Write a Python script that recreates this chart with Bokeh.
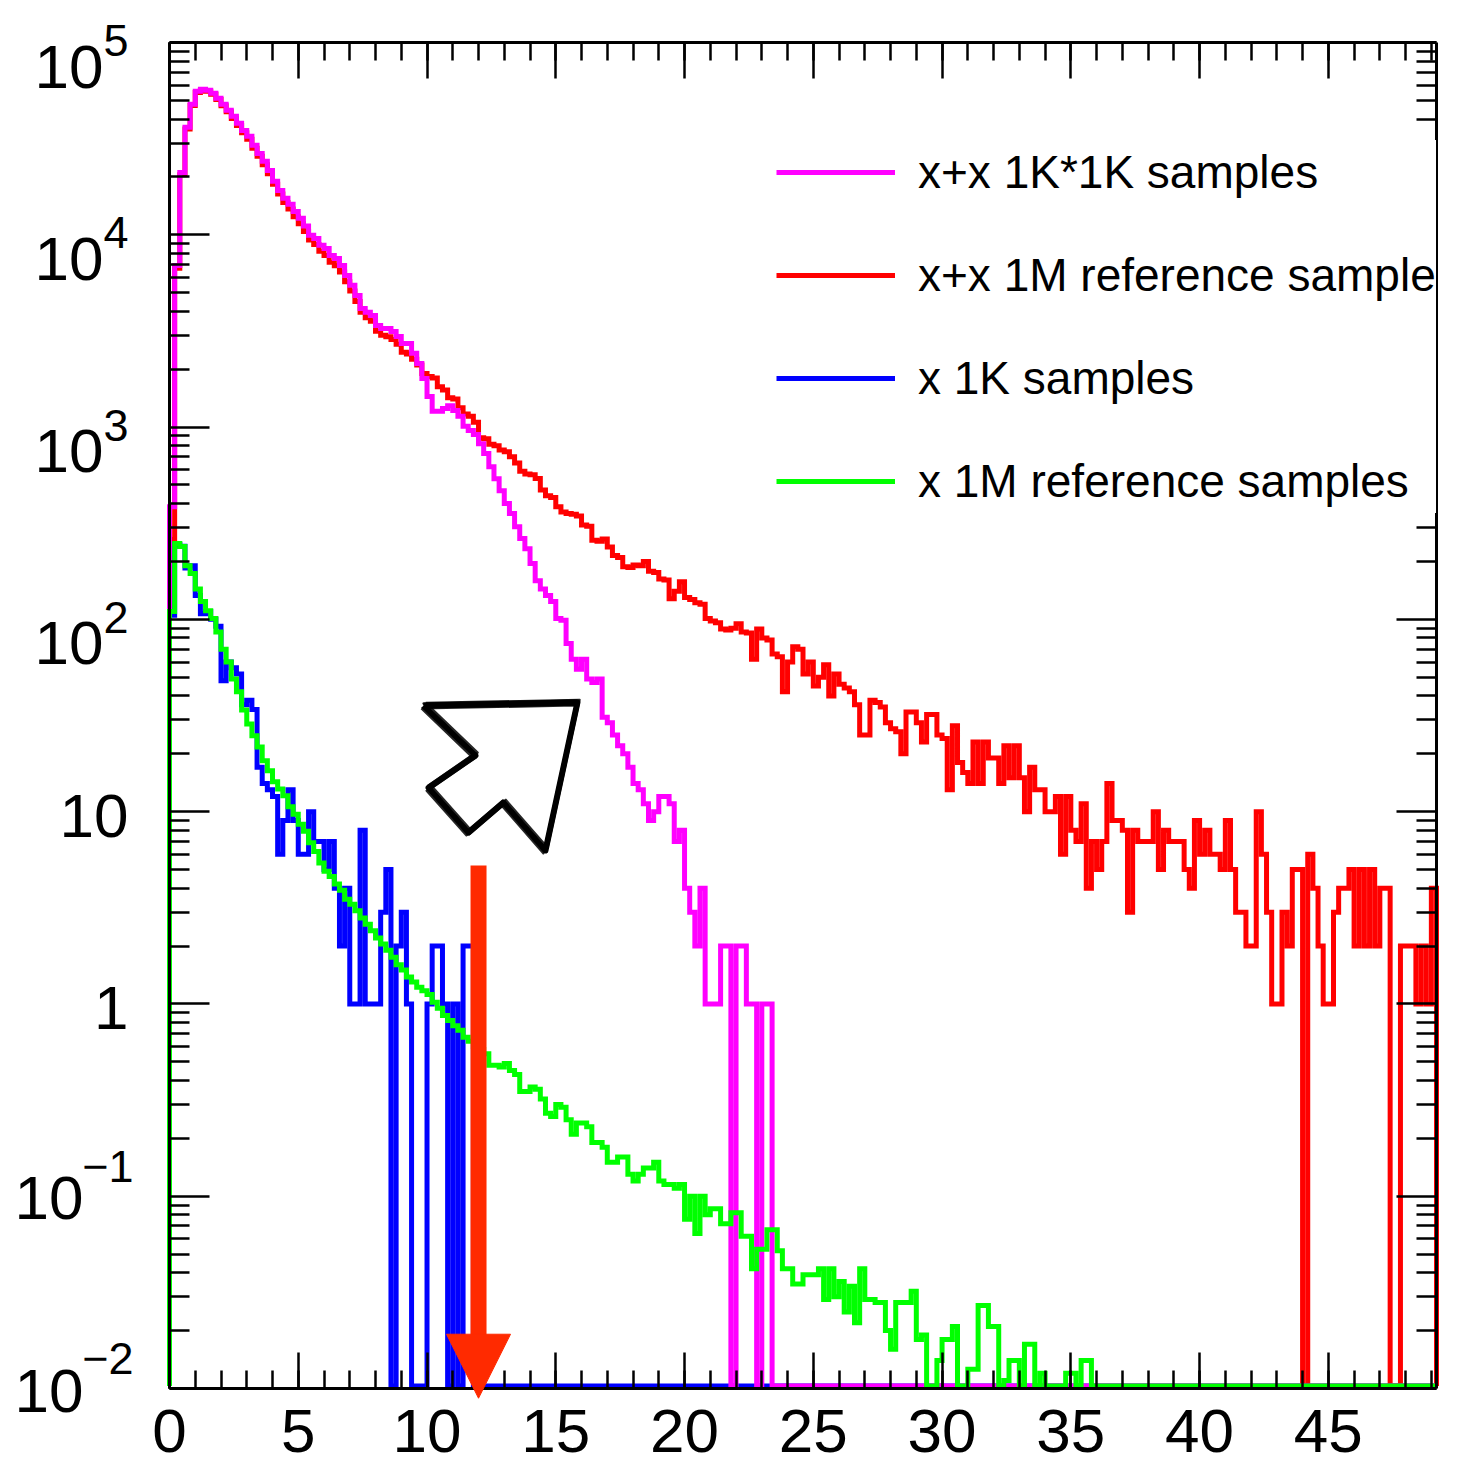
import math
import numpy as np
from bokeh.plotting import figure
from bokeh.models import (Range1d, FixedTicker, LinearAxis, LogAxis, Label, Legend,
                          LegendItem, Arrow, NormalHead, CustomJSTickFormatter)
from bokeh.embed import file_html
from bokeh.resources import INLINE

# ---------------- data (bin contents, 0.2 wide bins starting at 0) ----------------
N_BINS = 246
BIN_WIDTH = 0.2
X_MIN, X_MAX = 0.0, 49.2
Y_MIN, Y_MAX = 1e-2, 1e5

RED_XX_1M_REF = [
    260, 6700, 20500, 35500, 47000, 55000, 56500, 55800, 53800, 50500,
    46900, 43600, 40300, 37000, 33900, 31400, 28200, 25600, 23100, 20800,
    18300, 16300, 14700, 13600, 12400, 11400, 10400, 9400, 8900, 8200,
    7800, 7200, 6900, 6400, 5700, 5100, 4500, 3950, 3700, 3550,
    3150, 3000, 2950, 2850, 2700, 2450, 2400, 2250, 2100, 1900,
    1830, 1800, 1620, 1560, 1420, 1400, 1260, 1170, 1140, 1060,
    880, 870, 815, 800, 760, 745, 700, 650, 590, 570,
    565, 540, 470, 440, 430, 385, 362, 355, 352, 345,
    310, 305, 258, 255, 262, 238, 215, 210, 188, 186,
    192, 190, 200, 178, 175, 162, 160, 128, 140, 157,
    130, 127, 122, 120, 101, 98, 96, 89, 88, 90,
    95, 86, 85, 62, 89, 80, 78, 66, 64, 42,
    60, 72, 70, 52, 60, 45, 50, 58, 40, 52,
    46, 44, 42, 36, 25, 25, 38, 37, 35, 29,
    27, 26, 20, 33, 33, 29, 23, 32, 32, 25,
    24, 13, 28, 18, 16, 14, 23, 14, 23, 19,
    19, 14, 22, 15, 22, 15, 10, 17, 13, 13,
    10, 10, 12, 6, 12, 8, 7, 11, 4, 7,
    5, 7, 14, 9, 9, 8, 3, 8, 7, 7,
    7, 10, 5, 8, 7, 7, 7, 5, 4, 9,
    6, 8, 6, 6, 5, 9, 5, 3, 3, 2,
    2, 10, 6, 3, 1, 1, 3, 2, 5, 5,
    0, 6, 4, 2, 1, 1, 3, 4, 4, 5,
    2, 5, 2, 5, 2, 4, 4, 0, 0, 2,
    2, 2, 1, 2, 1, 4,
]

MAGENTA_XX_1Kx1K = [
    385, 6930, 21100, 36200, 47700, 55700, 57100, 56400, 54500, 51300,
    47700, 44400, 41300, 38000, 34900, 32500, 29200, 26500, 24100, 21600,
    19000, 17000, 15500, 14400, 13200, 12200, 11100, 9930, 9570, 8810,
    8490, 7810, 7530, 6930, 6150, 5460, 4840, 4140, 3950, 3800,
    3370, 3260, 3260, 3140, 2960, 2720, 2720, 2420, 2140, 1790,
    1440, 1210, 1210, 1250, 1290, 1220, 1140, 1010, 960, 914,
    820, 728, 622, 539, 467, 400, 355, 303, 263, 233,
    195, 159, 144, 133, 124, 101, 99, 75, 62, 55,
    62, 49, 47, 49, 31, 29, 25, 22, 20, 17,
    14, 13, 11, 9, 10, 12, 12, 11, 7, 8,
    4, 3, 2, 4, 1, 1, 1, 2, 2, 0,
    2, 2, 1, 1, 0, 1, 1,
]

BLUE_X_1K = [
    105, 245, 240, 185, 190, 133, 107, 110, 100, 92,
    48, 60, 56, 52, 36, 38, 34, 17, 14, 13,
    12, 6, 9, 13, 9, 6, 6, 10, 7, 7,
    5, 7, 4, 2, 4, 1, 1, 8, 1, 1,
    1, 3, 5, 0, 2, 3, 1, 0, 0, 0,
    1, 2, 2, 1, 0, 1, 0, 2, 2,
]

GREEN_X_1M_REF = [
    110, 248, 239, 190, 173, 144, 124, 111, 101, 86,
    70, 60, 49, 42, 33.8, 28.6, 24.8, 21.7, 18.4, 16.3,
    14.3, 13.1, 12.1, 10.6, 9.7, 8.6, 7.9, 6.9, 6.2, 5.4,
    4.9, 4.6, 4.2, 3.9, 3.5, 3.3, 3.05, 2.8, 2.6, 2.4,
    2.2, 2.05, 1.9, 1.75, 1.6, 1.5, 1.38, 1.3, 1.22, 1.17,
    1.12, 1.02, 0.95, 0.87, 0.82, 0.77, 0.73, 0.67, 0.64, 0.60,
    0.58, 0.55, 0.48, 0.48, 0.47, 0.49, 0.45, 0.43, 0.35, 0.35,
    0.37, 0.36, 0.32, 0.27, 0.26, 0.30, 0.29, 0.25, 0.21, 0.24,
    0.24, 0.23, 0.19, 0.19, 0.18, 0.15, 0.15, 0.16, 0.16, 0.13,
    0.12, 0.13, 0.14, 0.14, 0.15, 0.12, 0.115, 0.115, 0.11, 0.115,
    0.076, 0.10, 0.064, 0.10, 0.08, 0.086, 0.086, 0.072, 0.072, 0.082,
    0.082, 0.062, 0.062, 0.042, 0.053, 0.053, 0.067, 0.067, 0.052, 0.042,
    0.042, 0.035, 0.035, 0.039, 0.039, 0.039, 0.042, 0.029, 0.042, 0.030,
    0.036, 0.025, 0.034, 0.022, 0.042, 0.029, 0.029, 0.028, 0.028, 0.020,
    0.016, 0.028, 0.028, 0.028, 0.032, 0.018, 0.019, 0, 0, 0.014,
    0.018, 0.018, 0.021, 0, 0, 0.0126, 0.0126, 0.027, 0.027, 0.021,
    0.021, 0, 0.011, 0.014, 0.014, 0, 0.017, 0.017, 0, 0.012,
    0, 0, 0, 0, 0.012, 0.012, 0, 0.014, 0.014,
]

LEGEND_LABELS = ["x+x 1K*1K samples", "x+x 1M reference sample",
                 "x 1K samples", "x 1M reference samples"]

X_TICKS = [0, 5, 10, 15, 20, 25, 30, 35, 40, 45]
X_TICK_LABELS = ["0", "5", "10", "15", "20", "25", "30", "35", "40", "45"]
Y_DECADES = [1e5, 1e4, 1e3, 1e2, 1e1, 1e0, 1e-1, 1e-2]
Y_BASES = ["10", "10", "10", "10", "10", "1", "10", "10"]
Y_EXPONENTS = ["5", "4", "3", "2", "", "", "\u22121", "\u22122"]

# annotations: red down arrow and hand-drawn cursor outline (data coordinates)
RED_ARROW_X = 12.0
RED_ARROW_Y = (5.25, 0.0189, 0.0089)   # shaft top, head base, head tip
CURSOR_X = [9.86, 15.84, 14.60, 12.97, 11.61, 10.06, 11.88, 9.86]
CURSOR_Y = [35.6, 36.9, 6.28, 11.15, 7.79, 13.3, 19.6, 35.6]

# ---------------- layout: the framed histogram area inside the canvas ----------------
W, H = 1467, 1469
FRAME_PX = dict(left=169, right=1436, top=42, bottom=1388)
MARGIN = 2
FONT = "Liberation Sans"
C_MAG, C_RED, C_BLUE, C_GREEN = "#ff00ff", "#ff0000", "#0000ff", "#00ff00"
C_ARROW = "#ff2a00"
FLOOR = 0.0103   # empty bins are drawn on the bottom of the frame

px_per_x = (FRAME_PX["right"] - FRAME_PX["left"]) / (X_MAX - X_MIN)
px_per_dec = (FRAME_PX["bottom"] - FRAME_PX["top"]) / (math.log10(Y_MAX) - math.log10(Y_MIN))
view_x = (X_MIN - (FRAME_PX["left"] - MARGIN) / px_per_x,
          X_MAX + (W - MARGIN - FRAME_PX["right"]) / px_per_x)
view_y = (10 ** (math.log10(Y_MIN) - (H - MARGIN - FRAME_PX["bottom"]) / px_per_dec),
          10 ** (math.log10(Y_MAX) + (FRAME_PX["top"] - MARGIN) / px_per_dec))


def complete(vals):
    vals = list(vals)[:N_BINS]
    return vals + [0] * (N_BINS - len(vals))


edges = np.arange(N_BINS + 1) * BIN_WIDTH


def step_path(vals):
    v = np.maximum(np.asarray(complete(vals), dtype=float), FLOOR)
    xs = np.repeat(edges, 2)
    ys = np.concatenate([[FLOOR], np.repeat(v, 2), [FLOOR]])
    return xs, ys


p = figure(width=W, height=H, x_range=Range1d(*view_x), y_range=Range1d(*view_y),
           y_axis_type="log", output_backend="svg", toolbar_location=None,
           min_border_left=MARGIN, min_border_right=MARGIN, min_border_top=MARGIN,
           min_border_bottom=MARGIN)
p.outline_line_color = None
p.grid.visible = False
p.background_fill_color = "white"
p.border_fill_color = "white"

x_ticker = FixedTicker(ticks=X_TICKS, minor_ticks=list(range(0, 50)))
y_ticker = FixedTicker(ticks=Y_DECADES,
                       minor_ticks=[m * 10.0 ** e for e in range(-2, 5) for m in range(2, 10)])
blank = CustomJSTickFormatter(code="return ''")


def style_axis(ax, major_len, minor_len):
    ax.axis_line_width = 3
    ax.axis_line_color = "black"
    ax.major_tick_in = major_len
    ax.major_tick_out = 0
    ax.minor_tick_in = minor_len
    ax.minor_tick_out = 0
    ax.major_tick_line_width = 2.5
    ax.minor_tick_line_width = 2.5
    ax.major_tick_line_color = "black"
    ax.minor_tick_line_color = "black"
    ax.formatter = blank
    ax.major_label_text_font_size = "1px"
    ax.major_label_standoff = 0


xb = p.xaxis[0]
xb.ticker = x_ticker
xb.fixed_location = Y_MIN
xb.bounds = (X_MIN, X_MAX)
style_axis(xb, 36, 18)
yl = p.yaxis[0]
yl.ticker = y_ticker
yl.fixed_location = X_MIN
yl.bounds = (Y_MIN, Y_MAX)
style_axis(yl, 40, 20)

xt = LinearAxis(ticker=x_ticker, fixed_location=Y_MAX, bounds=(X_MIN, X_MAX))
style_axis(xt, 36, 18)
p.add_layout(xt, "above")
yr = LogAxis(ticker=y_ticker, fixed_location=X_MAX, bounds=(Y_MIN, Y_MAX))
style_axis(yr, 40, 20)
p.add_layout(yr, "right")

# histograms (drawing order as in the reference)
rx, ry = step_path(RED_XX_1M_REF)
r_red = p.line(rx, ry, line_color=C_RED, line_width=5, line_join="miter")
bx, by = step_path(BLUE_X_1K)
r_blue = p.line(bx, by, line_color=C_BLUE, line_width=5, line_join="miter")
mx, my = step_path(MAGENTA_XX_1Kx1K)
r_mag = p.line(mx, my, line_color=C_MAG, line_width=5, line_join="miter")
gx, gy = step_path(GREEN_X_1M_REF)
r_green = p.line(gx, gy, line_color=C_GREEN, line_width=5, line_join="miter")

# hand-drawn cursor outline (a few rough strokes)
p.line(CURSOR_X, CURSOR_Y, line_color="black", line_width=6, line_join="round")
for dx, fy, lw in [(0.09, 1.035, 2), (-0.08, 0.965, 2), (0.04, 0.975, 1.5), (-0.03, 1.03, 1.5)]:
    p.line([x + dx for x in CURSOR_X], [y * fy for y in CURSOR_Y],
           line_color="black", line_width=lw, line_alpha=0.85, line_join="round")

# red arrow: shaft + head
p.add_layout(Arrow(end=None, x_start=RED_ARROW_X, y_start=RED_ARROW_Y[0],
                   x_end=RED_ARROW_X, y_end=RED_ARROW_Y[1],
                   line_color=C_ARROW, line_width=16))
p.add_layout(Arrow(end=NormalHead(size=64, fill_color=C_ARROW, line_color=C_ARROW, line_width=1),
                   x_start=RED_ARROW_X, y_start=RED_ARROW_Y[1],
                   x_end=RED_ARROW_X, y_end=RED_ARROW_Y[2],
                   line_alpha=0.0, line_width=1))

# x tick labels
for xv, txt in zip(X_TICKS, X_TICK_LABELS):
    p.add_layout(Label(x=xv, y=Y_MIN, y_offset=-42, text=txt, text_align="center",
                       text_baseline="middle", text_font=FONT, text_font_size="62px",
                       text_color="black"))

# y tick labels (10 with superscript exponent)
LABEL_RIGHT = -41   # px left of the frame
for val, base, expo in zip(Y_DECADES, Y_BASES, Y_EXPONENTS):
    if expo:
        neg = expo.startswith("\u2212")
        sup_w = 50 if neg else 25
        sup_x = LABEL_RIGHT + (5 if neg else 0)
        base_dy = -2 if neg else -24
        sup_dy = 30 if neg else 2
        p.add_layout(Label(x=X_MIN, y=val, x_offset=sup_x, y_offset=sup_dy, text=expo,
                           text_align="right", text_baseline="middle",
                           text_font=FONT, text_font_size="45px", text_color="black"))
        p.add_layout(Label(x=X_MIN, y=val, x_offset=sup_x - sup_w, y_offset=base_dy,
                           text=base, text_align="right", text_baseline="middle",
                           text_font=FONT, text_font_size="62px", text_color="black"))
    else:
        p.add_layout(Label(x=X_MIN, y=val, x_offset=LABEL_RIGHT, y_offset=-4, text=base,
                           text_align="right", text_baseline="middle",
                           text_font=FONT, text_font_size="62px", text_color="black"))

legend = Legend(items=[LegendItem(label=LEGEND_LABELS[0], renderers=[r_mag]),
                       LegendItem(label=LEGEND_LABELS[1], renderers=[r_red]),
                       LegendItem(label=LEGEND_LABELS[2], renderers=[r_blue]),
                       LegendItem(label=LEGEND_LABELS[3], renderers=[r_green])],
                location=(607 + FRAME_PX["left"] - MARGIN, 875 + (H - MARGIN - FRAME_PX["bottom"])),
                orientation="vertical",
                background_fill_color="white", background_fill_alpha=1.0,
                border_line_color=None, padding=20, spacing=39, margin=0,
                glyph_width=119, glyph_height=64, label_height=64, label_standoff=23,
                label_text_font=FONT, label_text_font_size="46px",
                label_text_color="black")
p.add_layout(legend)

open("out.html", "w").write(file_html(p, INLINE))
